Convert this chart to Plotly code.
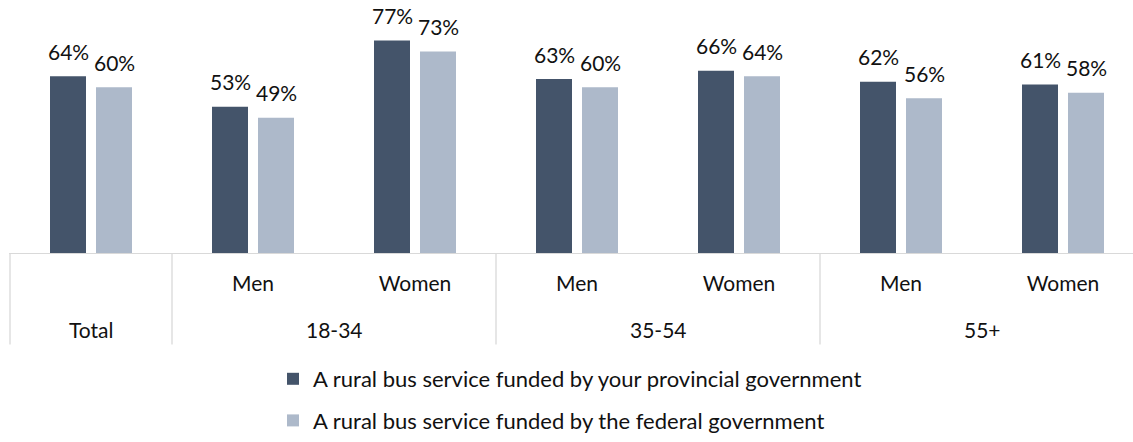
import plotly.graph_objects as go

# Survey breakdown: share of respondents supporting each option
groups = ["Total", "18-34", "35-54", "55+"]
group_of = [0, 1, 1, 2, 2, 3, 3]
subgroups = ["", "Men", "Women", "Men", "Women", "Men", "Women"]

series_names = [
    "A rural bus service funded by your provincial government",
    "A rural bus service funded by the federal government",
]
provincial = [64, 53, 77, 63, 66, 62, 61]
federal = [60, 49, 73, 60, 64, 56, 58]

colors = ["#44546A", "#ADB9CA"]
FONT = "Lato, 'Open Sans', sans-serif"
TEXT = "#111111"

# Figure geometry (pixels)
W, H = 1133, 442
ML, MR, MT, MB = 9, 0, 0, 185
CAT_PX = 162          # width of one category slot
PCT_PX = 2.805        # pixels per percentage point
plot_w = W - ML - MR
plot_h = H - MT - MB

x_lo = -0.5 - 1 / CAT_PX
x_hi = x_lo + plot_w / CAT_PX
y_hi = plot_h / PCT_PX

# bar placement inside a category (in category units)
bar_w = 36 / CAT_PX
pair_step = 46 / CAT_PX
offsets = [-pair_step / 2 - bar_w / 2, pair_step / 2 - bar_w / 2]

xs = list(range(len(subgroups)))

fig = go.Figure()
annotations = []
for k, (name, vals) in enumerate(zip(series_names, [provincial, federal])):
    fig.add_trace(go.Bar(
        x=xs, y=vals, name=name,
        width=bar_w, offset=offsets[k],
        marker=dict(color=colors[k], line=dict(width=0)),
        legendgroup=f"g{k}",
        hoverinfo="skip",
    ))
    for x, v in zip(xs, vals):
        annotations.append(dict(
            x=x + offsets[k] + bar_w / 2, y=v, xref="x", yref="y",
            text=f"{v}%", showarrow=False,
            yanchor="middle", yshift=25,
            font=dict(family=FONT, size=21, color=TEXT),
        ))

# outer category row and divider lines
px_to_paper = 1 / plot_h
divider_bottom = -(350 - (H - MB)) * px_to_paper
outer_label_y = -(334.5 - (H - MB)) * px_to_paper

shapes = []
boundaries = [-0.5]
for g, name in enumerate(groups):
    members = [i for i, gi in enumerate(group_of) if gi == g]
    lo, hi = members[0] - 0.5, members[-1] + 0.5
    boundaries.append(hi)
    annotations.append(dict(
        x=(lo + hi) / 2, y=outer_label_y, xref="x", yref="paper",
        text=name, showarrow=False, yanchor="middle",
        font=dict(family=FONT, size=21, color=TEXT),
    ))
for b in boundaries:
    shapes.append(dict(
        type="line", xref="x", yref="paper",
        x0=b, x1=b, y0=0, y1=divider_bottom,
        line=dict(color="#D9D9D9", width=1.3),
    ))

fig.update_layout(
    width=W, height=H,
    margin=dict(l=ML, r=MR, t=MT, b=MB),
    paper_bgcolor="white", plot_bgcolor="white",
    barmode="overlay",
    showlegend=True,
    legend=dict(
        orientation="v",
        x=(273 - ML) / plot_w, xanchor="left",
        y=-(364 - (H - MB)) * px_to_paper, yanchor="top",
        font=dict(family=FONT, size=22, color=TEXT),
        tracegroupgap=10,
        bgcolor="rgba(0,0,0,0)",
    ),
    annotations=annotations,
    shapes=shapes,
    font=dict(family=FONT, size=21, color=TEXT),
)
fig.update_xaxes(
    range=[x_lo, x_hi],
    tickmode="array", tickvals=xs, ticktext=subgroups,
    ticks="", showgrid=False, zeroline=False,
    showline=True, linecolor="#D9D9D9", linewidth=1.3,
    ticklabelstandoff=12,
    tickfont=dict(family=FONT, size=21, color=TEXT),
    fixedrange=True,
)
fig.update_yaxes(
    range=[0, y_hi], visible=False, showgrid=False, zeroline=False,
    fixedrange=True,
)

fig.write_html("out.html", config=dict(displayModeBar=False))
